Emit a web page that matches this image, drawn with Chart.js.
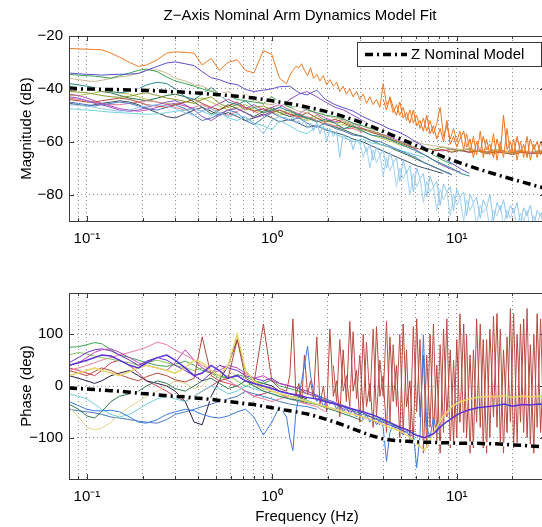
<!DOCTYPE html>
<html>
<head>
<meta charset="utf-8">
<title>Z-Axis Nominal Arm Dynamics Model Fit</title>
<script src="https://cdn.jsdelivr.net/npm/chart.js@4.4.0/dist/chart.umd.min.js"></script>
<style>
  html, body { margin: 0; padding: 0; background: #fff; overflow: hidden; width: 542px; height: 527px; }
  .panel { position: absolute; left: 0; width: 600px; }
  #magPanel { top: 0; height: 262px; }
  #phasePanel { top: 262px; height: 265px; }
</style>
</head>
<body>
<div class="panel" id="magPanel"><canvas id="magChart"></canvas></div>
<div class="panel" id="phasePanel"><canvas id="phaseChart"></canvas></div>
<script>
// frequency grid (Hz) shared by the smoother traces
const freq = [
  0.08, 0.09, 0.1, 0.11, 0.12, 0.135, 0.15, 0.17, 0.19, 0.21,
  0.24, 0.27, 0.3, 0.34, 0.38, 0.42, 0.47, 0.52, 0.58, 0.65,
  0.72, 0.8, 0.9, 1, 1.1, 1.25, 1.4, 1.55, 1.75, 1.95,
  2.2, 2.45, 2.75, 3.1, 3.45, 3.85, 4.3, 4.8, 5.4, 6,
  6.7, 7.5, 8.4, 9.4, 10.5, 11.7, 13, 14.5, 16.2, 18,
  20, 22.5, 25, 28, 30,
];
// finer grid above 1.2 Hz for the noisy traces
const freqHigh = [
  1.2, 1.25, 1.3, 1.35, 1.4, 1.45, 1.5, 1.56, 1.62, 1.68,
  1.75, 1.82, 1.9, 1.98, 2.06, 2.15, 2.24, 2.33, 2.43, 2.53,
  2.64, 2.75, 2.87, 2.99, 3.12, 3.25, 3.39, 3.53, 3.68, 3.84,
  4.0, 4.17, 4.35, 4.53, 4.72, 4.92, 5.13, 5.35, 5.58, 5.82,
  6.07, 6.33, 6.6, 6.88, 7.17, 7.48, 7.8, 8.13, 8.48, 8.84,
  9.22, 9.61, 10.0, 10.4, 10.9, 11.3, 11.8, 12.3, 12.8, 13.4,
  13.9, 14.5, 15.1, 15.8, 16.5, 17.2, 17.9, 18.7, 19.5, 20.3,
  21.2, 22.1, 23.0, 24.0, 25.0, 26.1, 27.2, 28.4, 29.6,
];
const freqDense = freq.slice(0, 25).concat(freqHigh);

const xTicks = [0.08, 0.09, 0.1, 0.2, 0.3, 0.4, 0.5, 0.6, 0.7, 0.8, 0.9, 1, 2, 3, 4, 5, 6, 7, 8, 9, 10, 20, 30];
const xTickLabels = { 0.1: "10⁻¹", 1: "10⁰", 10: "10¹" };
const magTicks = [-80, -60, -40, -20];
const phaseTicks = [-100, 0, 100];

// ---------- magnitude (dB) ----------
const magNominal = [
  -40.0, -40.0, -40.1, -40.1, -40.2, -40.2, -40.3, -40.4, -40.5, -40.6,
  -40.8, -41.0, -41.1, -41.3, -41.5, -41.7, -42.0, -42.2, -42.5, -42.8,
  -43.1, -43.5, -44.0, -44.5, -45.0, -45.6, -46.2, -46.9, -47.7, -48.5,
  -49.5, -50.5, -51.6, -52.9, -54.2, -55.6, -57.0, -58.5, -60.0, -61.4,
  -62.8, -64.2, -65.6, -66.9, -68.1, -69.2, -70.3, -71.3, -72.3, -73.3,
  -74.2, -75.2, -76.1, -77.1, -77.6,
];
const magOrange = [
  -24.7, -24.9, -25, -25.1, -25.2, -26.5, -28, -30, -31.5, -31,
  -29, -26.5, -26, -26.2, -26.5, -31, -28.5, -33, -30, -29,
  -33, -34, -25.5, -27, -36,
  -38, -35, -33, -31.5, -32, -30.5, -33, -35, -32, -36,
  -34.5, -37, -35, -38.5, -36.5, -39, -37.5, -41, -39, -42,
  -40, -43, -41, -44, -42, -45.5, -43, -46, -44, -47,
  -38, -46, -44, -49, -46, -50, -47, -52, -48, -53,
  -50, -55, -51, -56, -52, -57, -53, -47, -58, -54,
  -59, -55, -60, -56, -63, -57, -64, -58, -65, -56,
  -66, -59, -65, -57, -67, -60, -66, -55, -65, -59,
  -67, -60, -66, -58, -67, -61, -66, -60, -64,
];
// second orange record, from 4 Hz up
const magOrangeB = [
  -44, -48, -43, -47, -50, -45, -51, -49, -53, -48,
  -54, -52, -56, -50, -57, -54, -59, -55, -60, -52,
  -61, -58, -62, -59, -56, -62, -59, -66, -60, -64,
  -58, -63, -61, -66, -59, -64, -50, -63, -60, -65,
  -58, -64, -61, -66, -59, -63, -60, -65, -61,
];
const magLightBlue = [
  -46, -46.2, -46.5, -47, -47.5, -48, -48.5, -48, -47, -46.5,
  -46, -46.5, -47.5, -49, -50, -48.5, -47.5, -49, -50.5, -49.5,
  -51, -53, -57, -52, -50.5,
  -51, -52, -50.5, -53, -52, -54, -51.5, -55, -53, -56,
  -52.5, -57, -54, -60, -55, -58, -56, -66, -57, -59,
  -58, -63, -59, -61, -60, -64, -61, -67, -62, -65,
  -63, -70, -64, -68, -66, -75, -67, -72, -69, -79,
  -70, -74, -72, -81, -73, -77, -75, -84, -76, -79,
  -77, -86, -78, -81, -79, -88, -80, -83, -81, -89,
  -82, -85, -80, -90, -83, -86, -82, -89, -84, -87,
  -83, -91, -85, -88, -84, -92, -86, -88, -85,
];
// second light-blue record, from 3 Hz up
const magLightBlueB = [
  -60, -66, -62, -70, -63, -68, -65, -73, -66, -71,
  -68, -77, -70, -74, -71, -80, -72, -77, -74, -83,
  -75, -79, -77, -86, -78, -82, -79, -88, -80, -84,
  -81, -90, -82, -86, -83, -92, -84, -87, -85, -93,
  -86, -88, -84, -92, -86, -89, -85, -93, -87, -90,
  -86, -94, -88, -91, -87, -93,
];
const magBluePurple = [
  -34, -34.3, -34.5, -34.6, -34.8, -34.6, -34.5, -34.4, -34.2, -33,
  -31.5, -30.2, -29.8, -30.5, -31.2, -33.5, -35.8, -36.5, -37.8, -38.4,
  -40.2, -41, -40.5, -40, -39.2, -39, -41.5, -42.3, -40.5, -44,
  -46, -47.2, -48.4, -50.5, -52, -53.4, -55.1, -56.2, -58, -60.1,
  -62, -64.3, -66, -68.2, -70.3, -72,
];
const magGreen = [
  -34.5, -34.8, -35, -35.2, -35.5, -36, -35, -34, -33, -32.5,
  -33.5, -35.5, -37, -38, -39, -40, -41, -42, -42.5, -44,
  -44.5, -45, -45.5, -43, -45, -47, -46.5, -48, -49, -50,
  -50.5, -51.5, -53, -54, -55, -56, -57, -58.5, -60, -61.5,
  -63, -65, -67, -68.5,
];
const magTan = [
  -36, -36.5, -37, -37.2, -36.8, -36, -35.5, -35, -34, -33,
  -32.8, -34, -36, -37, -38.5, -39, -40.5, -42, -41, -43,
  -42, -44, -45.5, -46, -45, -47, -48.5, -49, -48, -50,
  -51, -52, -53.5, -54, -55.5, -56, -57.5, -58, -59.5, -60,
  -61, -61.5, -62, -62.5, -63, -62.5, -63.5, -62.8, -63.2, -64,
  -63, -63.5, -64, -63.2, -63.8,
];
const magTeal = [
  -38, -38.5, -39, -39.5, -40, -41, -41.5, -41, -40, -38.5,
  -37.5, -38, -40, -43, -44, -42, -39.5, -42, -45, -46,
  -44.5, -47, -49, -48, -47, -48.5, -50, -51, -52.5, -51.5,
  -53, -55, -54, -56, -57.5, -58, -59, -60.5, -62, -63.5,
  -65, -67, -68.5, -70, -72, -73,
];
const magOlive = [
  -41, -41.2, -41.5, -42, -42.5, -43, -43.2, -42.8, -42, -41.5,
  -42.5, -43.5, -44, -44.8, -45.5, -44, -43, -45.5, -47, -46,
  -48, -47, -46.5, -48, -49, -48, -50, -51.5, -50, -52,
  -53, -52.5, -54, -55.5, -56, -57, -58.5, -60, -61, -62,
  -62.5, -63, -62, -63, -63.5, -62.8, -63.6, -64, -63, -63.5,
  -64.2, -63.4, -64, -63.7, -64.2,
];
const magPurple = [
  -43, -43.5, -44.5, -45.5, -46, -47, -48, -48.5, -48, -47,
  -46, -45, -44.5, -46, -48, -50.5, -52, -50, -48, -47.5,
  -49, -51, -50, -48.5, -47, -44, -42, -41, -43, -45,
  -47, -48, -50, -52, -54, -55.5, -57, -59, -61, -63,
  -65, -67, -69, -70.5, -71.5,
];
const magBrown = [
  -44, -44.5, -45, -45, -44.5, -44, -43.5, -44, -45, -46,
  -46.5, -47, -46, -45, -44, -45.5, -47, -48, -46.5, -45,
  -47, -48.5, -47.5, -49, -48, -49.5, -50.5, -49, -51, -52.5,
  -51.5, -53, -54.5, -55, -56.5, -57.5, -59, -60, -61.5, -62.5,
  -63, -63.5, -63, -64, -63.2, -64, -63.5, -64.5, -63.8, -64.2,
  -64.8, -64, -64.5, -64.2, -64.6,
];
const magSteel = [
  -45, -45.5, -46, -46.5, -46, -45.5, -45, -45.5, -46.5, -47.5,
  -48, -47, -46, -47.5, -50, -52, -51, -49.5, -48, -49,
  -52, -53.5, -51, -49, -50.5, -52, -51, -53, -54.5, -53,
  -55, -56, -57.5, -58, -59.5, -60, -61.5, -63, -64.5, -66,
  -68, -69.5, -71, -72.5,
];
const magCyan = [
  -47.5, -47.8, -48, -48.2, -48.5, -48.8, -49, -49.2, -49.4, -49.6,
  -49.5, -49, -48.5, -48, -47.5, -48.5, -50, -49, -51, -52,
  -50.5, -53, -54, -55.5, -52, -54, -56, -57, -54, -55,
  -57, -58.5, -60, -59, -60.5, -61, -62, -63, -64, -65,
  -66,
];
const magMagenta = [
  -42, -42.5, -43.5, -44.5, -45.5, -46.5, -47.5, -48, -48.5, -48,
  -47, -46, -45.5, -46.5, -47.5, -48.5, -47, -45.5, -44, -45.5,
  -47.5, -46, -48, -47, -46, -48, -49.5, -47.5, -49.5, -51,
  -52.5, -51.5, -53, -55, -56, -57, -58, -59.5, -60.5, -61.5,
  -62.5, -63, -63.5, -62.8, -63.4, -64, -63.2, -63.8, -64.3, -63.6,
  -64, -63.5, -64.1, -63.8, -64.3,
];
const magSlate = [
  -45.5, -46, -46.5, -46, -45.5, -45, -44.5, -45, -46, -47.5,
  -49, -50.5, -51, -49.5, -48, -47, -48.5, -50, -49, -50.5,
  -52, -51, -49.5, -51, -52.5, -51.5, -53, -54.5, -54, -55.5,
  -56.5, -57.5, -59, -60, -61.5, -63, -64.5, -66, -67.5, -69,
  -70, -71, -72,
];
const magPink = [
  -43.5, -44, -44.5, -45, -45.5, -46, -46, -45.5, -45, -44.5,
  -45, -46, -47, -48, -47, -46, -47.5, -49, -50, -48.5,
  -47, -48.5, -50, -49, -48, -50, -51, -50.5, -52, -53.5,
  -54, -55, -55, -56.5,
];
const magDarkGreen = [
  -39, -39.5, -40, -40.5, -41, -41.5, -42.5, -43.5, -44, -44.5,
  -43.5, -42.5, -42, -43, -45, -47, -49.5, -48, -46, -47.5,
  -49, -50.5, -48.5, -47, -49, -50.5, -49.5, -51, -52, -53.5,
  -54.5, -55.5, -57, -58, -59.5, -61, -62, -63.5, -65, -66.5,
  -68, -69.5, -71, -72.5,
];
const magLime = [
  -42.5, -42.5, -42, -41.5, -41, -41, -41.5, -42, -43, -44,
  -45, -45.5, -46, -45, -44, -43.5, -45, -46.5, -48, -47,
  -46, -48, -49, -48.5, -50, -49, -51, -52, -51, -53,
  -54, -53.5, -55, -56, -57.5, -58.5, -59.5, -61, -62, -62.5,
  -63, -63.5, -63, -63.8, -63.2, -64, -63.5, -64.2, -63.6, -64,
  -64.5, -63.8, -64.2, -64.6, -64.1,
];

// ---------- phase (deg) ----------
const phaseNominal = [
  -4, -5, -6, -7, -8, -9, -10, -12, -14, -15,
  -17, -19, -20, -21, -23, -24, -26, -28, -30, -32,
  -34, -36, -39, -42, -45, -48, -51, -54, -59, -64,
  -70, -76, -83, -90, -96, -101, -104, -106, -107, -108,
  -109, -109, -110, -110, -111, -111, -111, -112, -112, -113,
  -114, -115, -116, -117, -118,
];
const phaseRed = [
  30, 25, 20, 28, 35, 30, 22, 15, 10, 18,
  25, 20, 12, 8, 15, 95, 20, 10, 15, 90,
  15, 5, 120, 10, -5,
  -10, 20, 130, -20, 5, -30, 60, -15, 10, -25,
  95, -35, 0, -50, 110, -20, 10, -60, 70, -30,
  125, -10, 30, -70, 100, -40, 5, -80, 115, -20,
  20, -90, 95, -30, 40, -100, 120, -40, 10, -110,
  130, -60, 60, -120, 100, -90, 40, -130, 110, -60,
  70, -110, 90, -70, 120, -100, 60, -120, 130, -80,
  90, -130, 110, -60, 140, -110, 70, -90, 150, -120,
  100, -70, 130, -100, 80, -130, 140, -90, 60,
];
// second dark-red record, from 2.15 Hz up
const phaseRedB = [
  40, -30, 90, -10, 20, -40, 105, -25, 60, -50,
  85, -30, 110, -60, 50, -20, 125, -70, 80, -40,
  100, -90, 70, -110, 115, -50, 90, -130, 60, -80,
  120, -110, 80, -90, 130, -120, 50, -100, 140, -90,
  100, -130, 70, -70, 120, -120, 90, -100, 135, -80,
  110, -130, 95, -70, 140, -110, 120, -90, 150, -120,
  100, -80, 130, -100,
];
const phaseBlue = [
  -30, -38, -45, -48, -48, -47, -50, -60, -70, -72,
  -65, -55, -50, -45, -48, -55, -60, -62, -58, -50,
  -45, -60, -95, -70, -40,
  -60, -100, -125, -50, -20, 10, 40, 77, 20, -10,
  -30, -20, -40, -25, -35, -30, -45, -35, -50, -40,
  -55, -45, -60, -50, -65, -55, -70, -60, -75, -65,
  -80, -146, -90, -75, -85, -80, -95, -85, -100, -90,
  -158, -95, 99, -80, -100, -60, -90, -70,
];
const phasePurple = [
  40, 45, 50, 55, 60, 58, 50, 40, 35, 45,
  55, 60, 50, 35, 20, 25, 40, 30, 15, 20,
  10, 5, 0, -5, -10, -15, -18, -22, -25, -30,
  -35, -40, -45, -50, -55, -62, -70, -78, -85, -95,
  -100, -92, -75, -62, -52, -46, -42, -40, -38, -35,
  -39, -36, -37, -35, -36,
];
const phaseYellow = [
  20, 25, 30, 35, 30, 25, 20, 28, 35, 40,
  35, 30, 25, 35, 50, 45, 30, 20, 40, 100,
  30, 10, 0, -10, -15, -20, -25, -30, -35, -40,
  -45, -50, -55, -60, -65, -72, -80, -85, -95, -110,
  -125, -90, -60, -40, -30, -25, -22, -20, -21, -19,
  -22, -20, -21, -20, -22,
];
const phaseMagenta = [
  40, 45, 55, 65, 70, 72, 65, 55, 45, 40,
  35, 30, 45, 70, 50, 35, 25, 30, 40, 35,
  25, 15, 20, 10, 5, 0, -5, -15, -20, -30,
  -35, -45, -50, -60, -65, -75,
];
const phaseViolet = [
  45, 55, 65, 70, 72, 68, 60, 50, 40, 48,
  55, 50, 40, 30, 20, 10, 25, 40, 35, 30,
  20, 15, 10, 15, 5, 0, -5, -10, -18, -25,
  -32, -38, -45, -52, -60, -68, -75, -82, -90,
];
const phaseDarkGreen = [
  -35, -45, -58, -62, -50, -30, -20, -15, -10, 0,
  10, 5, -5, -10, 0, 10, 15, 5, -5, 0,
  10, 0, -10, -15, -20, -25, -28, -32, -36, -42,
  -48, -54, -60, -68,
];
const phaseCyan = [
  -15, -20, -25, -35, -45, -55, -60, -55, -45, -35,
  -25, -20, -25, -30, -20, -10, 0, -5, -15, -10,
  0, -5, -10, -15, -20, -25, -30, -28, -35, -40,
  -45,
];
const phaseKhaki = [
  -40, -60, -80, -85, -82, -70, -55, -40, -30, -20,
  -10, 0, 10, 5, -5, 0, 20, 40, 30, 20,
  10, 0, -5, -10, -15, -20,
];
const phaseLightGreen = [
  60, 65, 62, 58, 55, 52, 48, 45, 40, 45,
  50, 45, 40, 35, 30, 35, 25, 15, 20, 10,
  0, 5, -5, -10, -15, -20, -22, -28, -35, -40,
  -45,
];
const phaseGreen = [
  75, 76, 80, 84, 82, 70, 60, 55, 50, 45,
  40, 38, 42, 48, 40, 30, 25, 20, 15, 22,
  18, 10, 5, 12, 0, -5, -10, -15, -20, -28,
  -35, -40, -48, -55, -60, -65, -72, -80, -85, -88,
];
const phasePink = [
  30, 35, 40, 45, 50, 55, 60, 65, 70, 75,
  85, 80, 70, 60, 50, 40, 30, 20, 10, 0,
  -10, -20, -25, -30, -25, -20, -30, -35, -40, -50,
];
const phaseDark = [
  20, 15, 10, 5, 10, 20, 25, 30, 20, 10,
  5, 0, -10, -30, -70, -75, -20, 10, 40, 90,
  30, 10, 5, 0, -10, -15, -20, -25,
];
const phaseSteel = [
  -45, -48, -50, -52, -55, -60, -62, -65, -68, -70,
  -72, -65, -55, -50, -45, -40, -35, -30, -25, -20,
  -10, -15, -20, -25, -30, -35, -38, -40, -45,
];
const phaseRose = [
  35, 30, 25, 20, 30, 45, 50, 40, 25, 10,
  0, -10, -20, -30, -20, -10, 0, 10, 5, 0,
  -10, -20, -15, -10, -15, -25, -30, -35,
];

const FONT = "'Liberation Sans', Arial, Helvetica, sans-serif";
const gridColor = "rgba(0, 0, 0, 0.45)";
const frameColor = "#3a3a3a";
const nominalDash = [8, 4, 2, 4];

Chart.defaults.font.family = FONT;
Chart.defaults.font.size = 15;
Chart.defaults.color = "#000";
Chart.defaults.animation = false;

function trace(label, color, xs, ys, width) {
  return {
    label,
    data: ys.map((y, i) => ({ x: xs[i], y })),
    borderColor: color,
    backgroundColor: color,
    borderWidth: width || 1,
    pointRadius: 0,
    tension: 0,
    fill: false,
  };
}

function nominalSets(label, ys) {
  const line = trace(label, "#000", freq, ys, 3.5);
  line.borderDash = nominalDash;
  const halo = trace("", "#fff", freq, ys, 3.5);
  return [line, halo];
}

function freqAxis(withTitle) {
  return {
    type: "logarithmic",
    min: 0.08,
    max: 30,
    afterBuildTicks: (s) => {
      s.ticks = xTicks.map((v) => ({ value: v }));
    },
    afterFit: (s) => {
      s.height = withTitle ? 48 : 41;
    },
    ticks: {
      autoSkip: false,
      maxRotation: 0,
      padding: 9,
      callback: (v) => xTickLabels[v] || "",
    },
    grid: { color: gridColor, drawTicks: false },
    border: { display: false, dash: [1, 3] },
    title: {
      display: withTitle,
      text: "Frequency (Hz)",
      padding: { top: 0, bottom: 1 },
    },
  };
}

function valueAxis(min, max, tickValues, label) {
  return {
    min,
    max,
    afterBuildTicks: (s) => {
      s.ticks = tickValues.map((v) => ({ value: v }));
    },
    afterFit: (s) => {
      s.width = 69;
    },
    ticks: {
      padding: 6,
      callback: (v) => String(v).replace("-", "−"),
    },
    grid: { color: gridColor, drawTicks: false },
    border: { display: false, dash: [1, 3] },
    title: { display: true, text: label, padding: { top: 18, bottom: 0 } },
  };
}

// empty strip on the right: the axes run past the photographed edge
const rightSpacer = {
  position: "right",
  afterFit: (s) => {
    s.width = 55;
  },
  ticks: { display: false },
  grid: { display: false },
  border: { display: false },
};

// box around the axes plus the small inward ticks
const framePlugin = {
  id: "frame",
  afterDraw(chart) {
    const { ctx, chartArea: a, scales } = chart;
    ctx.save();
    ctx.strokeStyle = frameColor;
    ctx.lineWidth = 1;
    ctx.strokeRect(a.left + 0.5, a.top + 0.5, a.right - a.left, a.bottom - a.top);
    ctx.beginPath();
    xTicks.forEach((v) => {
      const px = Math.round(scales.x.getPixelForValue(v)) + 0.5;
      const len = xTickLabels[v] ? 5 : 3;
      ctx.moveTo(px, a.bottom);
      ctx.lineTo(px, a.bottom - len);
      ctx.moveTo(px, a.top);
      ctx.lineTo(px, a.top + len);
    });
    scales.y.ticks.forEach((t) => {
      const py = Math.round(scales.y.getPixelForValue(t.value)) + 0.5;
      ctx.moveTo(a.left, py);
      ctx.lineTo(a.left + 5, py);
      ctx.moveTo(a.right, py);
      ctx.lineTo(a.right - 5, py);
    });
    ctx.stroke();
    ctx.restore();
  },
};

// boxed legend in the upper right corner, like the original
const legendPlugin = {
  id: "nominalLegend",
  afterDraw(chart) {
    const ds = chart.data.datasets[0];
    const { ctx, chartArea: a } = chart;
    const right = a.right - 4;
    const left = right - 184;
    const top = a.top + 6;
    ctx.save();
    ctx.fillStyle = "#fff";
    ctx.fillRect(left + 0.5, top + 0.5, 184, 24);
    ctx.strokeStyle = frameColor;
    ctx.lineWidth = 1;
    ctx.strokeRect(left + 0.5, top + 0.5, 184, 24);
    ctx.setLineDash(ds.borderDash);
    ctx.lineWidth = ds.borderWidth;
    ctx.strokeStyle = ds.borderColor;
    ctx.beginPath();
    ctx.moveTo(left + 8, top + 12.5);
    ctx.lineTo(left + 50, top + 12.5);
    ctx.stroke();
    ctx.setLineDash([]);
    ctx.fillStyle = "#000";
    ctx.font = "15px " + FONT;
    ctx.textBaseline = "middle";
    ctx.fillText(ds.label, left + 54, top + 13);
    ctx.restore();
  },
};

const magChart = new Chart(document.getElementById("magChart"), {
  type: "line",
  data: {
    datasets: [
      ...nominalSets("Z Nominal Model", magNominal),
      trace("", "#f07a22", freqDense, magOrange),
      trace("", "#f06a14", freqHigh.slice(30), magOrangeB),
      trace("", "#8cc6ee", freqDense, magLightBlue),
      trace("", "#a6d4f4", freqHigh.slice(23), magLightBlueB),
      trace("", "#5b4fd0", freq, magBluePurple),
      trace("", "#3aa655", freq, magGreen),
      trace("", "#c8b88e", freq, magTan),
      trace("", "#27888a", freq, magTeal),
      trace("", "#8c9a2c", freq, magOlive),
      trace("", "#9050c8", freq, magPurple),
      trace("", "#b04a3a", freq, magBrown),
      trace("", "#4a78c0", freq, magSteel),
      trace("", "#72d2dc", freq, magCyan),
      trace("", "#c24fc0", freq, magMagenta),
      trace("", "#3c4e60", freq, magSlate),
      trace("", "#e07a9a", freq, magPink),
      trace("", "#2e6e3c", freq, magDarkGreen),
      trace("", "#b4c64e", freq, magLime),
    ],
  },
  options: {
    responsive: true,
    maintainAspectRatio: false,
    layout: { padding: 0 },
    plugins: {
      legend: { display: false },
      tooltip: { enabled: false },
      title: {
        display: true,
        text: "Z−Axis Nominal Arm Dynamics Model Fit",
        font: { size: 15, weight: "normal" },
        color: "#000",
        padding: { top: 7, bottom: 11 },
      },
    },
    scales: {
      x: freqAxis(false),
      y: valueAxis(-90, -20, magTicks, "Magnitude (dB)"),
      ySpace: rightSpacer,
    },
  },
  plugins: [framePlugin, legendPlugin],
});

const phaseChart = new Chart(document.getElementById("phaseChart"), {
  type: "line",
  data: {
    datasets: [
      ...nominalSets("Z Nominal Model", phaseNominal),
      trace("", "#5a32d8", freq, phasePurple, 1.5),
      trace("", "#e6d66a", freq, phaseYellow, 1.5),
      trace("", "#3a7de0", freqDense, phaseBlue),
      trace("", "#b5473c", freqDense, phaseRed),
      trace("", "#b9524a", freqHigh.slice(15), phaseRedB),
      trace("", "#c040c0", freq, phaseMagenta),
      trace("", "#7030c8", freq, phaseViolet),
      trace("", "#2f7a50", freq, phaseDarkGreen),
      trace("", "#6ccfd6", freq, phaseCyan),
      trace("", "#e0d48e", freq, phaseKhaki),
      trace("", "#86c45c", freq, phaseLightGreen),
      trace("", "#3aa655", freq, phaseGreen),
      trace("", "#f07ca0", freq, phasePink),
      trace("", "#2a1a4a", freq, phaseDark),
      trace("", "#4a7ac0", freq, phaseSteel),
      trace("", "#d04060", freq, phaseRose),
    ],
  },
  options: {
    responsive: true,
    maintainAspectRatio: false,
    layout: { padding: { left: 0, right: 0, top: 31, bottom: 0 } },
    plugins: {
      legend: { display: false },
      tooltip: { enabled: false },
    },
    scales: {
      x: freqAxis(true),
      y: valueAxis(-180, 180, phaseTicks, "Phase (deg)"),
      ySpace: rightSpacer,
    },
  },
  plugins: [framePlugin],
});
</script>
</body>
</html>
